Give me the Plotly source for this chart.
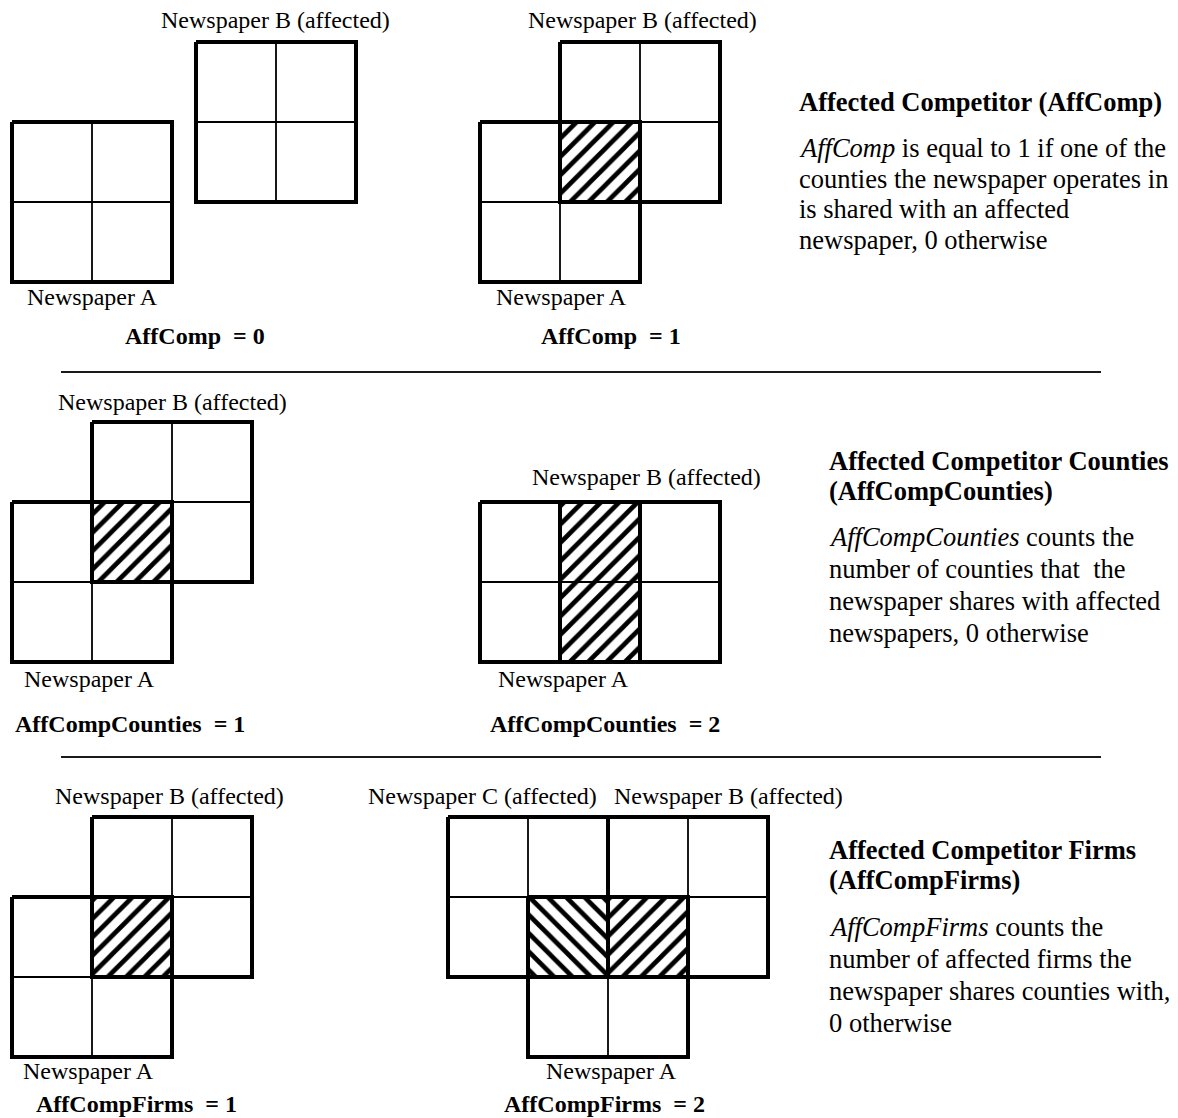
import plotly.graph_objects as go

W, H = 1178, 1118
CELL = 80  # size of one county cell in px

# ---- panel layout (origin of each county grid, px) ----
panel_x0 = [12, 480, 12, 480, 12, 448]
panel_y0 = [42, 42, 422, 502, 817, 817]

# ---- newspapers in each panel: (name, first col, first row, n cols, n rows, affected) ----
papers = [
    [("A", 0, 1, 2, 2, False), ("B", 2.3, 0, 2, 2, True)],
    [("A", 0, 1, 2, 2, False), ("B", 1, 0, 2, 2, True)],
    [("A", 0, 1, 2, 2, False), ("B", 1, 0, 2, 2, True)],
    [("A", 0, 0, 2, 2, False), ("B", 1, 0, 2, 2, True)],
    [("A", 0, 1, 2, 2, False), ("B", 1, 0, 2, 2, True)],
    [("C", 0, 0, 2, 2, True), ("B", 2, 0, 2, 2, True), ("A", 1, 1, 2, 2, False)],
]
hatch_shape = {"B": "/", "C": "\\"}

# ---- labels near the grids: (text, center x, center y) ----
label_text = [
    "Newspaper B (affected)", "Newspaper A", "<b>AffComp\u00a0 = 0</b>",
    "Newspaper B (affected)", "Newspaper A", "<b>AffComp\u00a0 = 1</b>",
    "Newspaper B (affected)", "Newspaper A", "<b>AffCompCounties\u00a0 = 1</b>",
    "Newspaper B (affected)", "Newspaper A", "<b>AffCompCounties\u00a0 = 2</b>",
    "Newspaper B (affected)", "Newspaper A", "<b>AffCompFirms\u00a0 = 1</b>",
    "Newspaper C (affected)", "Newspaper B (affected)", "Newspaper A",
    "<b>AffCompFirms\u00a0 = 2</b>",
]
label_x = [275, 92, 195, 642, 561, 611, 172, 89, 130, 646, 563, 605,
           169, 88, 136, 482, 728, 611, 604]
label_y = [20, 297, 336, 20, 297, 336, 402, 679, 724, 477, 679, 724,
           796, 1071, 1104, 796, 796, 1071, 1104]

# ---- definition blocks on the right: (lines, left x, line centers) ----
def_lines = [
    ["<b>Affected Competitor (AffComp)</b>",
     "<i>AffComp</i> is equal to 1 if one of the",
     "counties the newspaper operates in",
     "is shared with an affected",
     "newspaper, 0 otherwise"],
    ["<b>Affected Competitor Counties</b>",
     "<b>(AffCompCounties)</b>",
     "<i>AffCompCounties</i> counts the",
     "number of counties that\u00a0 the",
     "newspaper shares with affected",
     "newspapers, 0 otherwise"],
    ["<b>Affected Competitor Firms</b>",
     "<b>(AffCompFirms)</b>",
     "<i>AffCompFirms</i> counts the",
     "number of affected firms the",
     "newspaper shares counties with,",
     "0 otherwise"],
]
def_x = [797, 827, 827]
def_y = [
    [102, 148, 178.5, 209, 240],
    [461, 491, 537, 569, 601, 633],
    [850, 880, 927, 959, 991, 1023],
]

# ---- separators ----
sep_y = [372, 757]
sep_x0, sep_x1 = 61, 1101

FONT = "Liberation Serif"
fig = go.Figure()


def rect_of(p, ox, oy):
    name, c, r, nc, nr, aff = p
    x0 = ox + c * CELL
    y0 = oy + r * CELL
    return x0, y0, x0 + nc * CELL, y0 + nr * CELL


# hatched overlaps
for i, plist in enumerate(papers):
    ox, oy = panel_x0[i], panel_y0[i]
    base = [p for p in plist if p[0] == "A"][0]
    ax0, ay0, ax1, ay1 = rect_of(base, ox, oy)
    for p in plist:
        if not p[5]:
            continue
        bx0, by0, bx1, by1 = rect_of(p, ox, oy)
        ix0, iy0, ix1, iy1 = max(ax0, bx0), max(ay0, by0), min(ax1, bx1), min(ay1, by1)
        if ix1 <= ix0 or iy1 <= iy0:
            continue
        fig.add_trace(go.Scatter(
            x=[ix0, ix1, ix1, ix0, ix0], y=[iy0, iy0, iy1, iy1, iy0],
            mode="lines", line=dict(width=0, color="rgba(0,0,0,0)"),
            fill="toself", fillcolor="white",
            fillpattern=dict(shape=hatch_shape[p[0]], fgcolor="black",
                             bgcolor="white", size=13, solidity=0.36,
                             fgopacity=1),
            hoverinfo="skip", showlegend=False))

# thin internal county lines
tx, ty = [], []
for i, plist in enumerate(papers):
    ox, oy = panel_x0[i], panel_y0[i]
    for p in plist:
        x0, y0, x1, y1 = rect_of(p, ox, oy)
        for k in range(1, p[3]):
            xx = x0 + k * CELL
            tx += [xx, xx, None]
            ty += [y0, y1, None]
        for k in range(1, p[4]):
            yy = y0 + k * CELL
            tx += [x0, x1, None]
            ty += [yy, yy, None]
fig.add_trace(go.Scatter(x=tx, y=ty, mode="lines",
                         line=dict(color="black", width=1.8),
                         hoverinfo="skip", showlegend=False))

# thick newspaper borders
bx, by = [], []
for i, plist in enumerate(papers):
    ox, oy = panel_x0[i], panel_y0[i]
    for p in plist:
        x0, y0, x1, y1 = rect_of(p, ox, oy)
        bx += [x0, x1, x1, x0, x0, None]
        by += [y0, y0, y1, y1, y0, None]
fig.add_trace(go.Scatter(x=bx, y=by, mode="lines",
                         line=dict(color="black", width=4),
                         hoverinfo="skip", showlegend=False))

# separators
sx, sy = [], []
for y in sep_y:
    sx += [sep_x0, sep_x1, None]
    sy += [y, y, None]
fig.add_trace(go.Scatter(x=sx, y=sy, mode="lines",
                         line=dict(color="#1a1a1a", width=2),
                         hoverinfo="skip", showlegend=False))

annotations = []
LFS = 24
for t, x, y in zip(label_text, label_x, label_y):
    annotations.append(dict(text=t, x=x, y=y, xref="x", yref="y",
                            xanchor="center", yanchor="middle", showarrow=False,
                            font=dict(family=FONT, size=LFS, color="black")))
RFS = 26.5
for lines, x, ys in zip(def_lines, def_x, def_y):
    for t, y in zip(lines, ys):
        annotations.append(dict(text=t, x=x, y=y, xref="x", yref="y",
                                xanchor="left", yanchor="middle", showarrow=False,
                                align="left",
                                font=dict(family=FONT, size=RFS, color="black")))

fig.update_layout(
    width=W, height=H,
    margin=dict(l=0, r=0, t=0, b=0, pad=0),
    paper_bgcolor="white", plot_bgcolor="white",
    xaxis=dict(range=[0, W], visible=False, fixedrange=True),
    yaxis=dict(range=[H, 0], visible=False, fixedrange=True),
    annotations=annotations,
    showlegend=False,
)

fig.write_html("out.html",
               post_script="document.body.style.margin='0';document.body.style.overflow='hidden';",
               config={"displayModeBar": False})
